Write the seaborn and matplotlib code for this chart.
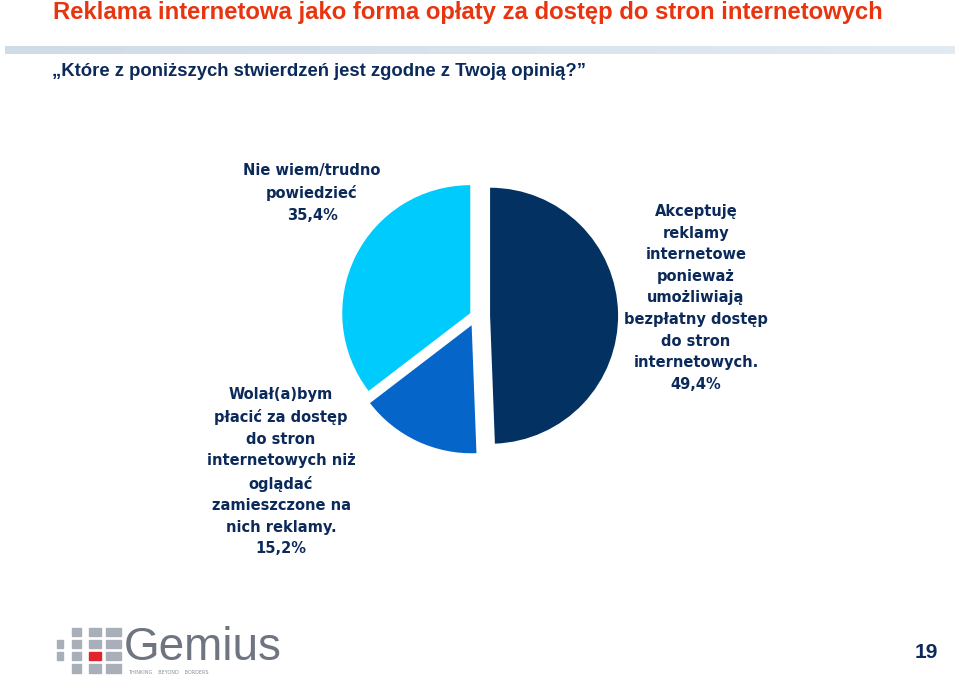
import matplotlib
matplotlib.use("Agg")
import matplotlib.pyplot as plt
import matplotlib.patches as mpatches
from matplotlib.colors import LinearSegmentedColormap
import numpy as np
import seaborn as sns

# ---- data ----
categories = [
    "Akceptuję\nreklamy\ninternetowe\nponieważ\numożliwiają\nbezpłatny dostęp\ndo stron\ninternetowych.",
    "Wolał(a)bym\npłacić za dostęp\ndo stron\ninternetowych niż\noglądać\nzamieszczone na\nnich reklamy.",
    "Nie wiem/trudno\npowiedzieć",
]
values = [49.4, 15.2, 35.4]
value_labels = ["49,4%", "15,2%", "35,4%"]
colors = ["#023162", "#0665c9", "#00cbfd"]
title = "Reklama internetowa jako forma opłaty za dostęp do stron internetowych"
subtitle = "\u201eKtóre z poniższych stwierdzeń jest zgodne z Twoją opinią?\u201d"
page_number = "19"

sns.set_theme(style="white")
plt.rcParams['font.family'] = ['DejaVu Sans']

W, H = 960, 688
fig = plt.figure(figsize=(W / 100, H / 100), dpi=100)
fig.patch.set_facecolor("white")

def fx(x):
    return x / W

def fy(y):
    return 1 - y / H

# title
fig.text(fx(53), fy(13), title, color="#e8340f", fontsize=17.2, fontweight="bold",
         family="Liberation Sans", va="center", ha="left")

# gradient bar
gax = fig.add_axes([fx(5), fy(54), fx(955) - fx(5), (54 - 46) / H])
grad = np.linspace(0, 1, 256)[None, :]
cm = LinearSegmentedColormap.from_list("g", ["#cfdbe6", "#d8e3ec", "#e3ebf2"])
gax.imshow(grad, aspect="auto", cmap=cm)
gax.axis("off")

# subtitle
fig.text(fx(52), fy(72), subtitle, color="#0b2a5a", fontsize=13.3, fontweight="bold",
         family="Liberation Sans", va="center", ha="left")

# pie
cx, cy, r = 476, 316, 128
half = 200
ax = fig.add_axes([fx(cx - half), fy(cy + half), 2 * half / W, 2 * half / H])
ax.pie(values, colors=colors, startangle=90, counterclock=False,
       explode=[0.11, 0.08, 0.05], radius=1,
       wedgeprops=dict(linewidth=0))
ax.set_xlim(-half / r, half / r)
ax.set_ylim(-half / r, half / r)
ax.set_aspect("equal")
ax.axis("off")

# labels
lab_kw = dict(color="#0b2a5a", fontsize=10.5, fontweight="bold", family="DejaVu Sans",
              ha="center", va="top", linespacing=1.55)
label_pos = [(696, 204), (281, 387), (312, 163)]
for cat, vl, (x, y) in zip(categories, value_labels, label_pos):
    fig.text(fx(x), fy(y), cat + "\n" + vl, **lab_kw)

# logo
sq_color = "#a9afb8"
cols_x = [57, 72, 89, 106]
rows_y = [628, 640, 652, 664]
for i, x in enumerate(cols_x):
    for j, y in enumerate(rows_y):
        if i == 0 and j in (0, 3):
            continue
        w = 6 + 3 * i
        h = 8 if j < 3 else 9
        c = "#e0262c" if (i == 2 and j == 2) else sq_color
        fig.patches.append(mpatches.Rectangle((fx(x), fy(y + h)), fx(w), h / H,
                                              transform=fig.transFigure, color=c))
fig.text(fx(124), fy(648), "Gemius", color="#6e7580", fontsize=33,
         family="Liberation Sans", va="center", ha="left")
fig.text(fx(128), fy(672), "THINKING    BEYOND    BORDERS", color="#8a9099", fontsize=3.5,
         family="DejaVu Sans", va="center", ha="left")

# page number
fig.text(fx(926), fy(652), page_number, color="#0b2a5a", fontsize=15, fontweight="bold",
         family="Liberation Sans", va="center", ha="center")

fig.savefig("out.png", dpi=100, facecolor="white")
